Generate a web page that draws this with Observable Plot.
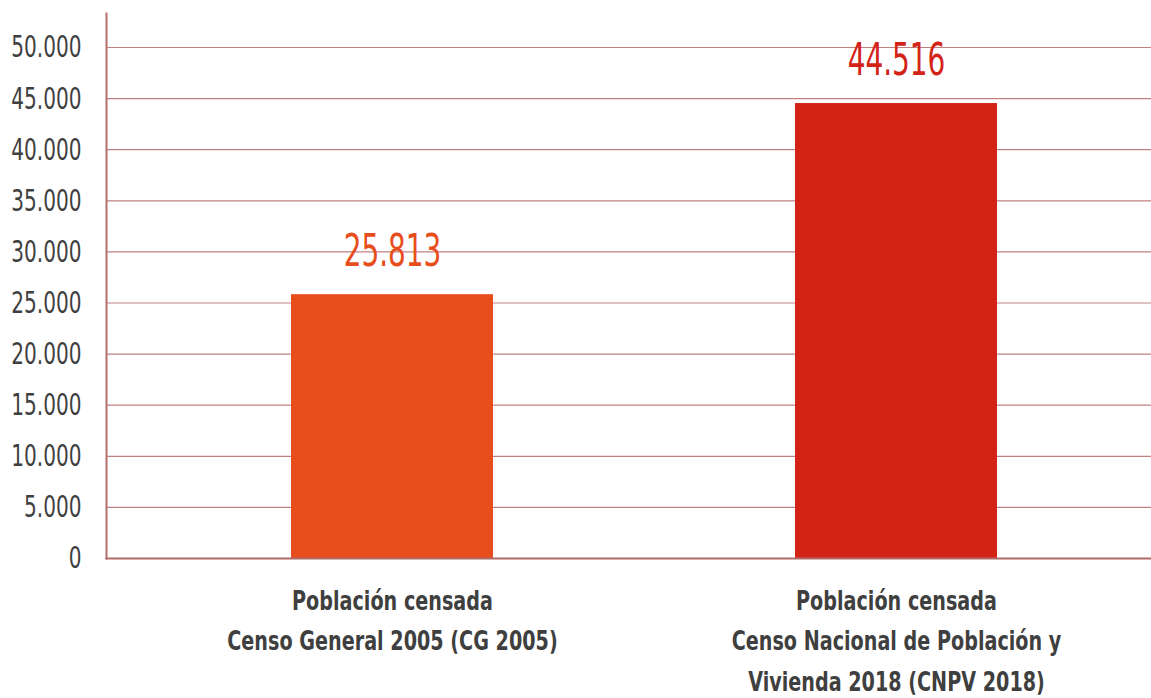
<!DOCTYPE html>
<html>
<head>
<meta charset="utf-8">
<script src="https://cdn.jsdelivr.net/npm/d3@7"></script>
<script src="https://cdn.jsdelivr.net/npm/@observablehq/plot@0.6"></script>
<style>
  html, body { margin: 0; padding: 0; background: #fff; }
  #chart svg { display: block; }
</style>
</head>
<body>
<div id="chart"></div>
<script>
const categories = ["CG 2005", "CNPV 2018"];
const labels = [
  "Población censada\nCenso General 2005 (CG 2005)",
  "Población censada\nCenso Nacional de Población y\nVivienda 2018 (CNPV 2018)"
];
const values = [25813, 44516];
const yTicks = [0, 5000, 10000, 15000, 20000, 25000, 30000, 35000, 40000, 45000, 50000];

const data = categories.map((c, i) => ({cat: c, value: values[i], label: labels[i]}));
const fmt = v => d3.format(",")(v).replace(/,/g, ".");
const FONT = "'Liberation Sans Narrow', 'DejaVu Sans Condensed', 'Roboto', sans-serif";
const barColors = ["#E84E1B", "#D32317"];

const chart = Plot.plot({
  width: 1151,
  height: 698,
  marginLeft: 106,
  marginRight: 0,
  marginTop: 13,
  marginBottom: 140,
  style: {fontFamily: FONT, background: "#fff"},
  x: {domain: categories, range: [140, 1148], paddingInner: 0.6, paddingOuter: 0.3, axis: null},
  y: {domain: [0, 50000], range: [558, 47], axis: null},
  color: {domain: categories, range: barColors},
  marks: [
    Plot.ruleY(yTicks, {stroke: "#bf8080", strokeWidth: 1.2}),
    Plot.barY(data, {x: "cat", y: "value", fill: "cat"}),
    Plot.frame({anchor: "left", stroke: "#b47070", strokeWidth: 2}),
    Plot.frame({anchor: "bottom", stroke: "#b06a6a", strokeWidth: 2}),
    Plot.text(yTicks, {
      y: d => d, text: d => fmt(d), frameAnchor: "left", textAnchor: "end", dx: -25,
      fontSize: 31, fill: "#3f3f3f", fontFamily: FONT
    }),
    Plot.text(data, {
      x: "cat", y: "value", text: d => fmt(d.value), fill: "cat",
      lineAnchor: "bottom", dy: -29, fontSize: 45, fontFamily: FONT
    }),
    Plot.text(data, {
      x: "cat", text: "label", frameAnchor: "bottom", lineAnchor: "top", dy: 23,
      lineHeight: 1.55, fontSize: 26, fontWeight: "bold", fill: "#3f3f3f", fontFamily: FONT
    })
  ]
});
document.getElementById("chart").appendChild(chart);

// horizontally condense text to imitate the narrow typeface of the reference
const condenseBySize = {"31": 0.72, "45": 0.69, "26": 0.82};
chart.querySelectorAll("text").forEach(t => {
  let el = t, size = null;
  while (el && el !== chart) {
    const fs = el.getAttribute && el.getAttribute("font-size");
    if (fs) { size = String(parseFloat(fs)); break; }
    el = el.parentNode;
  }
  const k = condenseBySize[size];
  if (!k) return;
  let tr = t.getAttribute("transform");
  if (!tr) {
    const x = t.getAttribute("x") || 0, y = t.getAttribute("y") || 0;
    t.removeAttribute("x"); t.removeAttribute("y");
    tr = `translate(${x},${y})`;
  }
  t.setAttribute("transform", tr + ` scale(${k},1)`);
});
</script>
</body>
</html>
